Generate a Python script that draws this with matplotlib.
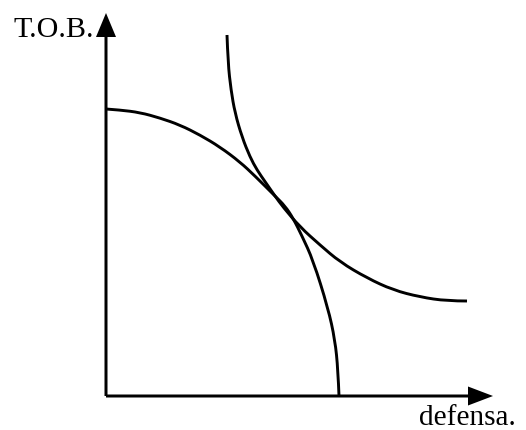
import matplotlib
matplotlib.use("Agg")
import matplotlib.pyplot as plt
from matplotlib.path import Path
from matplotlib.patches import PathPatch

# Frontier of production possibilities (defensa vs T.O.B.)
PPF_X = [0, 14, 34, 54, 74, 94, 114, 134, 149, 169, 179, 187, 196, 207, 222, 229, 232, 233]
PPF_Y = [287, 286, 283.5, 278, 271, 261, 249, 234, 220, 200, 190, 178, 160, 136, 88, 56, 26, 0]

# Indifference curve touching the frontier
IC_X = [121, 122, 125, 129, 136, 144, 151, 160, 169, 177, 194, 214, 234, 261, 287, 314, 341, 361]
IC_Y = [361, 333, 306, 283, 259, 239, 226, 213, 200, 189, 169, 151, 134, 118, 106, 99, 95, 95]

X_LABEL = "defensa."
Y_LABEL = "T.O.B."

plt.rcParams["font.family"] = ["Liberation Serif", "DejaVu Serif"]


def smooth_curve(ax, xs, ys, **kw):
    # quadratic pieces through the midpoints, so the read points give a smooth stroke
    pts = list(zip(xs, ys))
    verts = [pts[0]]
    codes = [Path.MOVETO]
    for i in range(1, len(pts) - 1):
        if i < len(pts) - 2:
            end = ((pts[i][0] + pts[i + 1][0]) / 2, (pts[i][1] + pts[i + 1][1]) / 2)
        else:
            end = pts[-1]
        verts += [pts[i], end]
        codes += [Path.CURVE3, Path.CURVE3]
    ax.add_patch(PathPatch(Path(verts, codes), fill=False, **kw))


fig = plt.figure(figsize=(5.26, 4.30), dpi=100)
ax = fig.add_axes([0, 0, 1, 1])
ax.set_xlim(-106, 420)
ax.set_ylim(-34, 396)
ax.axis("off")

# axes with arrow heads
ax.arrow(0, 0, 0, 383, width=3, head_width=20, head_length=24,
         length_includes_head=True, color="black", lw=0)
ax.arrow(0, 0, 387, 0, width=3, head_width=19, head_length=25,
         length_includes_head=True, color="black", lw=0)

smooth_curve(ax, PPF_X, PPF_Y, edgecolor="black", lw=2.1, capstyle="butt")
smooth_curve(ax, IC_X, IC_Y, edgecolor="black", lw=2.1, capstyle="butt")

ax.text(-93, 359, Y_LABEL, fontsize=21.7, ha="left", va="baseline")
ax.text(313, -29, X_LABEL, fontsize=21.2, ha="left", va="baseline")

fig.savefig("out.png", dpi=100)
